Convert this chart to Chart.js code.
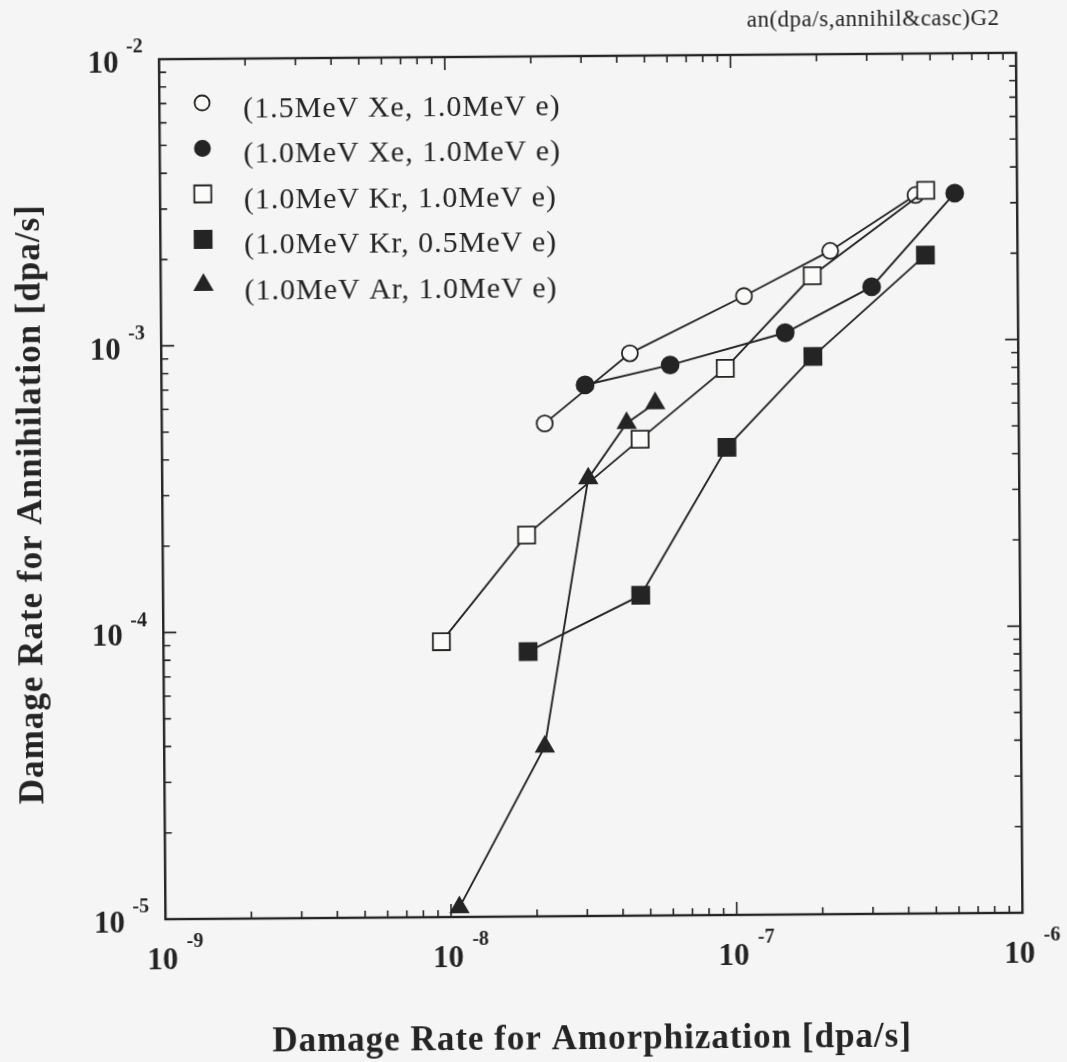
<!DOCTYPE html>
<html>
<head>
<meta charset="utf-8">
<title>Damage rate for annihilation vs amorphization</title>
<script src="https://cdn.jsdelivr.net/npm/chart.js@4.4.1/dist/chart.umd.min.js"></script>
<style>
  html, body { margin: 0; padding: 0; background: #f6f5f5; overflow: hidden; }
  /* the printed figure sits a little askew on the page */
  #wrap { width: 1067px; height: 1062px; transform: rotate(-0.43deg); transform-origin: 591px 486px; }
</style>
</head>
<body>
<div id="wrap"><canvas id="rateChart" width="1067" height="1062"></canvas></div>
<script>
// irradiation conditions (ion, electron energy)
const seriesLabels = [
  "(1.5MeV Xe, 1.0MeV e)",
  "(1.0MeV Xe, 1.0MeV e)",
  "(1.0MeV Kr, 1.0MeV e)",
  "(1.0MeV Kr, 0.5MeV e)",
  "(1.0MeV Ar, 1.0MeV e)"
];

// damage rate for amorphization [dpa/s]
const xe15Amorph = [2.19e-8, 4.37e-8, 1.10e-7, 2.21e-7, 4.41e-7];
const xe10Amorph = [3.04e-8, 6.04e-8, 1.53e-7, 3.08e-7, 6.05e-7];
const kr10Amorph = [9.4e-9, 1.88e-8, 4.72e-8, 9.42e-8, 1.91e-7, 4.79e-7];
const kr05Amorph = [1.89e-8, 4.70e-8, 9.50e-8, 1.91e-7, 4.76e-7];
const ar10Amorph = [1.07e-8, 2.15e-8, 3.10e-8, 4.24e-8, 5.34e-8];

// damage rate for annihilation [dpa/s]
const xe15Annihil = [5.24e-4, 9.16e-4, 1.44e-3, 2.06e-3, 3.21e-3];
const xe10Annihil = [7.12e-4, 8.32e-4, 1.07e-3, 1.54e-3, 3.25e-3];
const kr10Annihil = [9.14e-5, 2.14e-4, 4.59e-4, 8.07e-4, 1.69e-3, 3.33e-3];
const kr05Annihil = [8.39e-5, 1.31e-4, 4.28e-4, 8.83e-4, 1.98e-3];
const ar10Annihil = [1.08e-5, 3.91e-5, 3.36e-4, 5.23e-4, 6.12e-4];

// decade exponents used for the tick labels
const xDecades = [-9, -8, -7, -6];
const yDecades = [-5, -4, -3, -2];

const xTitle = "Damage Rate for Amorphization [dpa/s]";
const yTitle = "Damage Rate for Annihilation [dpa/s]";
const fileTag = "an(dpa/s,annihil&casc)G2";

const ink = "#242424";
const paper = "#fbfbfa";
const serif = "'Liberation Serif', 'Times New Roman', serif";

function toPoints(xs, ys) {
  return xs.map((v, i) => ({ x: v, y: ys[i] }));
}

function series(idx, xs, ys, style, radius, filled, order) {
  return {
    label: seriesLabels[idx],
    data: toPoints(xs, ys),
    showLine: true,
    borderColor: ink,
    borderWidth: 1.9,
    pointStyle: style,
    pointRadius: radius,
    pointBorderWidth: 1.8,
    pointBorderColor: ink,
    pointBackgroundColor: filled ? ink : paper,
    order: order,
    clip: false
  };
}

const datasets = [
  series(0, xe15Amorph, xe15Annihil, "circle", 8, false, 2),
  series(1, xe10Amorph, xe10Annihil, "circle", 8.5, true, 1),
  series(2, kr10Amorph, kr10Annihil, "rect", 12, false, 0),
  series(3, kr05Amorph, kr05Annihil, "rect", 12, true, 3),
  series(4, ar10Amorph, ar10Annihil, "triangle", 10, true, 4)
];

// "10" with the exponent raised beside it
function drawPower(ctx, exp, baseX, baseY, supX, supY) {
  ctx.font = "bold 31px " + serif;
  ctx.textAlign = "center";
  ctx.textBaseline = "middle";
  ctx.fillText("10", baseX, baseY);
  ctx.font = "bold 20px " + serif;
  ctx.textAlign = "left";
  ctx.fillText(String(exp), supX, supY);
}

const framePlugin = {
  id: "frame",
  afterDraw(chart) {
    const { ctx, chartArea: a, scales } = chart;
    const xs = scales.x, ys = scales.y;
    ctx.save();
    ctx.strokeStyle = ink;
    ctx.fillStyle = ink;

    // inward ticks on all four sides
    ctx.lineWidth = 1.6;
    ctx.beginPath();
    for (let d = -9; d < -6; d++) {
      for (let m = 1; m <= 9; m++) {
        const px = xs.getPixelForValue(m * Math.pow(10, d));
        const len = m === 1 ? 13 : 7;
        ctx.moveTo(px, a.bottom); ctx.lineTo(px, a.bottom - len);
        ctx.moveTo(px, a.top); ctx.lineTo(px, a.top + len);
      }
    }
    for (let d = -5; d < -2; d++) {
      for (let m = 1; m <= 9; m++) {
        const py = ys.getPixelForValue(m * Math.pow(10, d));
        const len = m === 1 ? 13 : 7;
        ctx.moveTo(a.left, py); ctx.lineTo(a.left + len, py);
        ctx.moveTo(a.right, py); ctx.lineTo(a.right - len, py);
      }
    }
    ctx.stroke();

    ctx.lineWidth = 2.4;
    ctx.strokeRect(a.left, a.top, a.right - a.left, a.bottom - a.top);

    // decade labels
    xDecades.forEach(e => {
      const px = xs.getPixelForValue(Math.pow(10, e));
      drawPower(ctx, e, px - 3, a.bottom + 42, px + 21, a.bottom + 23);
    });
    yDecades.forEach(e => {
      const py = ys.getPixelForValue(Math.pow(10, e));
      drawPower(ctx, e, a.left - 56, py + 5, a.left - 33, py - 12);
    });

    // axis titles
    ctx.font = "bold 35px " + serif;
    ctx.letterSpacing = "1px";
    ctx.textAlign = "center";
    ctx.textBaseline = "middle";
    ctx.fillText(xTitle, 588, 1040);
    ctx.save();
    ctx.translate(32, 500);
    ctx.rotate(-Math.PI / 2);
    ctx.fillText(yTitle, 0, 0);
    ctx.restore();

    // figure tag in the top right corner
    ctx.font = "23px " + serif;
    ctx.letterSpacing = "0.5px";
    ctx.textAlign = "right";
    ctx.fillText(fileTag, 1003, 22);

    // legend in the upper left of the plot
    ctx.font = "30px " + serif;
    ctx.letterSpacing = "1px";
    ctx.textAlign = "left";
    chart.data.datasets.forEach((ds, i) => {
      const my = 100 + i * 45.5;
      ctx.fillStyle = ds.pointBackgroundColor;
      ctx.strokeStyle = ink;
      ctx.lineWidth = ds.pointBorderWidth;
      Chart.helpers.drawPoint(ctx, {
        pointStyle: ds.pointStyle,
        radius: ds.pointStyle === "circle" ? 7.5 : ds.pointRadius,
        rotation: 0,
        borderWidth: ds.pointBorderWidth
      }, 205, my);
      ctx.fillStyle = ink;
      ctx.fillText(ds.label, 246, my + 7);
    });
    ctx.letterSpacing = "0px";
    ctx.restore();
  }
};

new Chart(document.getElementById("rateChart").getContext("2d"), {
  type: "scatter",
  data: { datasets: datasets },
  options: {
    responsive: false,
    animation: false,
    devicePixelRatio: 1,
    events: [],
    layout: { padding: { left: 162.25, right: 47.75, top: 56, bottom: 146 } },
    plugins: { legend: { display: false }, tooltip: { enabled: false } },
    scales: {
      x: { type: "logarithmic", min: 1e-9, max: 1e-6, display: false },
      y: { type: "logarithmic", min: 1e-5, max: 1e-2, display: false }
    }
  },
  plugins: [framePlugin]
});
</script>
</body>
</html>
